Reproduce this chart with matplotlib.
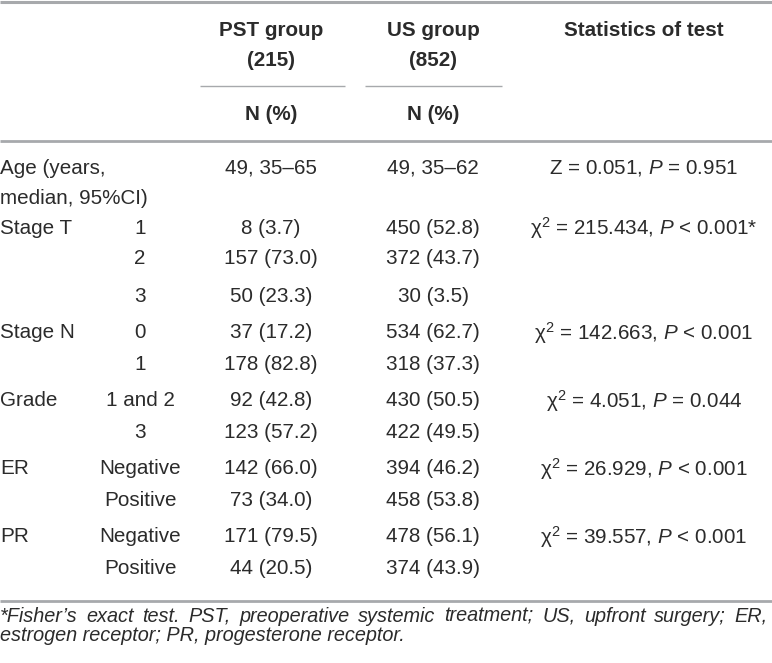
import matplotlib
matplotlib.use("Agg")
import matplotlib.pyplot as plt

# ---------------- data ----------------
header_groups = ["PST group\n(215)", "US group\n(852)"]
header_sub = ["N (%)", "N (%)"]
header_stats = "Statistics of test"

variables = ["Age (years,\nmedian, 95%CI)", "Stage T", "Stage N", "Grade", "ER", "PR"]
subcats = [[""], ["1", "2", "3"], ["0", "1"], ["1 and 2", "3"],
           ["Negative", "Positive"], ["Negative", "Positive"]]
pst_vals = [["49, 35\u201365"], ["8 (3.7)", "157 (73.0)", "50 (23.3)"],
            ["37 (17.2)", "178 (82.8)"], ["92 (42.8)", "123 (57.2)"],
            ["142 (66.0)", "73 (34.0)"], ["171 (79.5)", "44 (20.5)"]]
us_vals = [["49, 35\u201362"], ["450 (52.8)", "372 (43.7)", "30 (3.5)"],
           ["534 (62.7)", "318 (37.3)"], ["430 (50.5)", "422 (49.5)"],
           ["394 (46.2)", "458 (53.8)"], ["478 (56.1)", "374 (43.9)"]]
stats = [r"Z = 0.051, $P$ = 0.951",
         r"χ$^2$ = 215.434, $P$ < 0.001*",
         r"χ$^2$ = 142.663, $P$ < 0.001",
         r"χ$^2$ = 4.051, $P$ = 0.044",
         r"χ$^2$ = 26.929, $P$ < 0.001",
         r"χ$^2$ = 39.557, $P$ < 0.001"]
footnote = ["*Fisher\u2019s exact test. PST, preoperative systemic treatment; US, upfront surgery; ER,",
            "estrogen receptor; PR, progesterone receptor."]

# ---------------- style ----------------
FONT = "Liberation Sans"
plt.rcParams["font.family"] = [FONT, "DejaVu Sans"]
plt.rcParams["mathtext.fontset"] = "custom"
plt.rcParams["mathtext.rm"] = FONT
plt.rcParams["mathtext.it"] = FONT + ":italic"
plt.rcParams["mathtext.bf"] = FONT + ":bold"
TXT = "#2b2b2b"
LINE = "#a7a9ac"
FS = 14.9

W, H = 772, 663
fig = plt.figure(figsize=(W / 100, H / 100), dpi=100)
ax = fig.add_axes([0, 0, 1, 1])
ax.set_xlim(0, W)
ax.set_ylim(H, 0)
ax.axis("off")

# layout
x_var, x_sub, x_pst, x_us, x_stat = 0, 140, 271, 433, 644
row_y = [[168], [228, 259, 296], [333, 364], [401, 433], [469, 501], [537, 569]]
age_y2 = 198

# rules
ax.plot([0, W], [1.5, 1.5], color=LINE, lw=2.2, solid_capstyle="butt")
ax.plot([200, 345], [86, 86], color=LINE, lw=1.0, solid_capstyle="butt")
ax.plot([365, 502], [86, 86], color=LINE, lw=1.0, solid_capstyle="butt")
ax.plot([0, W], [141, 141], color=LINE, lw=2.0, solid_capstyle="butt")
ax.plot([0, W], [601, 601], color=LINE, lw=2.0, solid_capstyle="butt")

# header
for xc, g, s in zip([x_pst, x_us], header_groups, header_sub):
    l1, l2 = g.split("\n")
    ax.text(xc, 30, l1, ha="center", va="center", fontsize=FS, fontweight="bold", color=TXT)
    ax.text(xc, 60, l2, ha="center", va="center", fontsize=FS, fontweight="bold", color=TXT)
    ax.text(xc, 115, s, ha="center", va="center", fontsize=FS, fontweight="bold", color=TXT)
ax.text(x_stat, 30, header_stats, ha="center", va="center", fontsize=FS, fontweight="bold", color=TXT)

# body
for i, var in enumerate(variables):
    ys = row_y[i]
    if "\n" in var:
        a, b = var.split("\n")
        ax.text(x_var, ys[0], a, ha="left", va="center", fontsize=FS, color=TXT)
        ax.text(x_var, age_y2, b, ha="left", va="center", fontsize=FS, color=TXT)
    else:
        ax.text(x_var, ys[0], var, ha="left", va="center", fontsize=FS, color=TXT)
    for j, y in enumerate(ys):
        if subcats[i][j]:
            ax.text(x_sub, y, subcats[i][j], ha="center", va="center", fontsize=FS, color=TXT)
        ax.text(x_pst, y, pst_vals[i][j], ha="center", va="center", fontsize=FS, color=TXT)
        ax.text(x_us, y, us_vals[i][j], ha="center", va="center", fontsize=FS, color=TXT)
    ax.text(x_stat, ys[0], stats[i], ha="center", va="center", fontsize=FS, color=TXT)

# footnote (first line justified)
FFS = 14.3
fig.canvas.draw()
r = fig.canvas.get_renderer()
words = footnote[0].split(" ")
tmp = [ax.text(0, 0, w, fontsize=FFS, style="italic") for w in words]
widths = [t.get_window_extent(r).width for t in tmp]
for t in tmp:
    t.remove()
target = 768
gap = max((target - sum(widths)) / (len(words) - 1), 3)
x = 0
for w, wd in zip(words, widths):
    ax.text(x, 622, w, ha="left", va="baseline", fontsize=FFS, style="italic", color=TXT)
    x += wd + gap
ax.text(0, 641, footnote[1], ha="left", va="baseline", fontsize=FFS, style="italic", color=TXT)

fig.savefig("out.png", dpi=100, facecolor="white")
